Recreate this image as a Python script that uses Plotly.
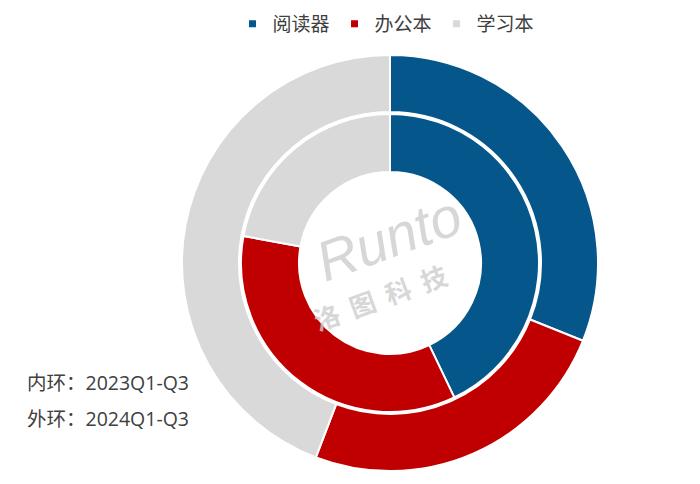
import plotly.graph_objects as go

categories = ["阅读器", "办公本", "学习本"]
outer_2024 = [31.1, 24.7, 44.2]
inner_2023 = [42.9, 35.0, 22.1]
colors = ["#05568A", "#C00000", "#D9D9D9"]

W, H = 700, 484
cx, cy = 390, 263
R_out, R_out_in = 208, 151
R_in, R_in_in = 149, 91

def dom(r):
    return dict(x=[(cx - r) / W, (cx + r) / W],
                y=[(H - cy - r) / H, (H - cy + r) / H])

fig = go.Figure()
fig.add_trace(go.Pie(labels=categories, values=outer_2024, hole=R_out_in / R_out,
                     domain=dom(R_out), sort=False, direction="clockwise", rotation=0,
                     marker=dict(colors=colors, line=dict(color="white", width=2)),
                     textinfo="none", hoverinfo="label+value", showlegend=False))
fig.add_trace(go.Pie(labels=categories, values=inner_2023, hole=R_in_in / R_in,
                     domain=dom(R_in), sort=False, direction="clockwise", rotation=0,
                     marker=dict(colors=colors, line=dict(color="white", width=2)),
                     textinfo="none", hoverinfo="label+value", showlegend=False))

for name, c in zip(categories, colors):
    fig.add_trace(go.Scatter(x=[None], y=[None], mode="markers", name=name,
                             marker=dict(symbol="square", size=7, color=c)))

font = "Open Sans, Noto Sans CJK SC"
cjk = "Noto Sans CJK SC"
for txt, yy in [("内环：2023Q1-Q3", 382), ("外环：2024Q1-Q3", 418)]:
    fig.add_annotation(x=25 / W, y=1 - yy / H, xref="paper", yref="paper", xanchor="left",
                       yanchor="middle", text=txt, showarrow=False,
                       font=dict(family=font, size=19.5, color="#404040"))
# watermark
fig.add_annotation(x=388 / W, y=1 - 238 / H, xref="paper", yref="paper", text="<i>Runto</i>",
                   showarrow=False, textangle=-20,
                   font=dict(family="Liberation Sans", size=56, color="rgba(205,205,205,0.8)"))
fig.add_annotation(x=380 / W, y=1 - 296 / H, xref="paper", yref="paper", text="<b>洛  图  科  技</b>",
                   showarrow=False, textangle=-20,
                   font=dict(family=cjk, size=26, color="rgba(205,205,205,0.8)"))

fig.update_layout(
    width=W, height=H, margin=dict(l=0, r=0, t=0, b=0),
    paper_bgcolor="white", plot_bgcolor="white",
    xaxis=dict(visible=False), yaxis=dict(visible=False),
    legend=dict(orientation="h", x=386 / W, xanchor="center", y=1 - 5 / H, yanchor="top",
                font=dict(family=cjk, size=19, color="#404040"), itemwidth=30),
    font=dict(family=font),
)
fig.write_html("out.html", config={"displayModeBar": False},
               post_script="document.body.style.margin='0';")
